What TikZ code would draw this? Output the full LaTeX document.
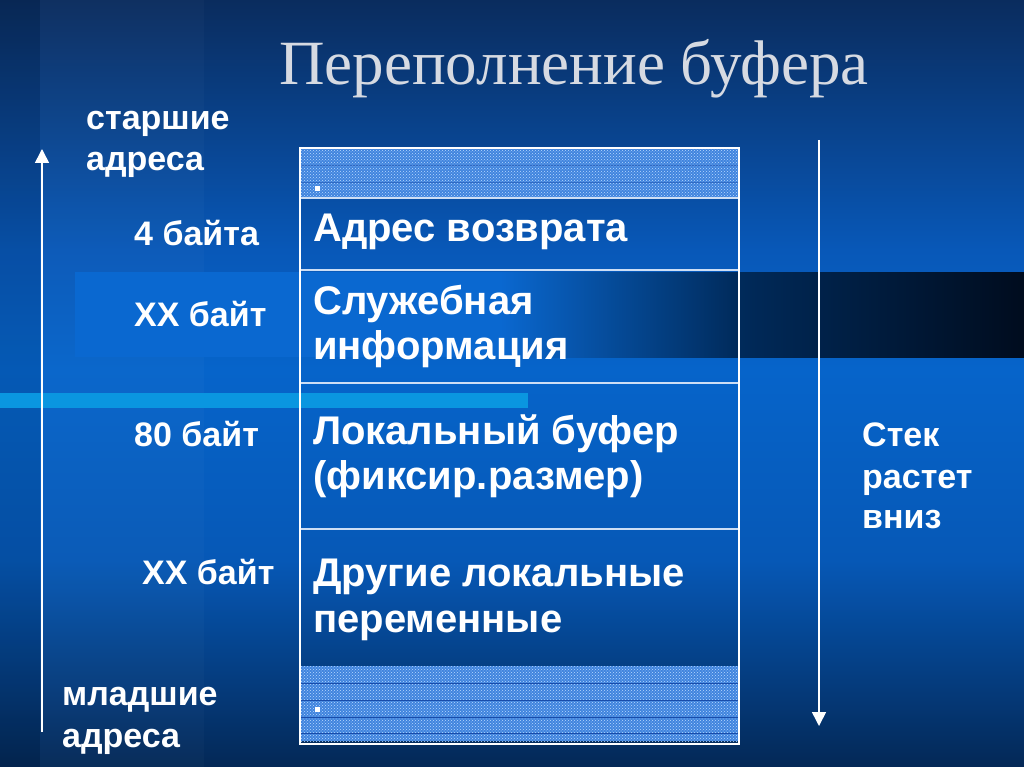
\documentclass[tikz,border=0pt]{standalone}
\usepackage{fontspec}
\setmainfont{Liberation Serif}
\setsansfont{Liberation Sans}
\usetikzlibrary{arrows.meta,patterns}
\definecolor{bgA}{RGB}{10,44,94}
\definecolor{bgB}{RGB}{8,88,184}
\definecolor{bgC}{RGB}{6,100,202}
\definecolor{bgD}{RGB}{6,88,182}
\definecolor{bgE}{RGB}{4,40,86}
\definecolor{bandL}{RGB}{10,104,208}
\definecolor{bandM}{RGB}{0,42,90}
\definecolor{bandR}{RGB}{0,12,30}
\definecolor{cyanbar}{RGB}{10,150,224}
\definecolor{patbase}{RGB}{64,132,222}
\definecolor{patdot}{RGB}{186,218,255}
\definecolor{patline}{RGB}{24,76,170}
\definecolor{titlegray}{RGB}{214,218,226}
\definecolor{rowline}{RGB}{205,222,245}
\begin{document}
\begin{tikzpicture}[x=1pt,y=-1pt,
  lbl/.style={anchor=base west, inner sep=0pt, text=white, font=\sffamily\bfseries\fontsize{34}{40}\selectfont},
  cell/.style={anchor=base west, inner sep=0pt, text=white, font=\sffamily\bfseries\fontsize{40}{46}\selectfont},
  patfill/.style={fill=patbase, postaction={pattern=crosshatch dots, pattern color=patdot}},
  patrule/.style={draw=patline, line width=0.8pt},
  rowrule/.style={draw=rowline, line width=1.5pt},
  frame/.style={draw=white, line width=2.5pt},
  bullet/.style={fill=white},
  axis/.style={draw=white, line width=1.6pt, -{Triangle[width=14pt,length=14pt]}}]
\useasboundingbox (0,0) rectangle (1024,767);
% background
\fill[top color=bgA,bottom color=bgB] (0,0) rectangle (1024,250);
\fill[top color=bgB,bottom color=bgC] (0,250) rectangle (1024,370);
\fill[top color=bgC,bottom color=bgD] (0,370) rectangle (1024,560);
\fill[top color=bgD,bottom color=bgE] (0,560) rectangle (1024,767.5);
\fill[black, opacity=0.10] (0,0) rectangle (40,767.5);
\fill[white, opacity=0.025] (40,0) rectangle (204,767.5);
\fill[bandL] (75,272) rectangle (500,357);
\fill[left color=bandL, right color=bandM] (500,272) rectangle (740,357);
\fill[left color=bandM, right color=bandR] (740,272) rectangle (1024.5,357);
\fill[cyanbar] (0,393) rectangle (528,408);
% title
\node[anchor=base, inner sep=0pt, text=titlegray, font=\fontsize{63}{70}\selectfont] (title) at (574,85) {Переполнение буфера};
% table
\path[patfill] (301,149) rectangle (738,197);
\path[patfill] (301,666) rectangle (738,741);
\foreach \yy in {165,182} \draw[patrule, opacity=0.5] (301,\yy) -- (738,\yy);
\foreach \yy in {683,700,717,733} \draw[patrule] (301,\yy) -- (738,\yy);
\fill[bullet] (314.5,186.5) rectangle (319.5,191.5);
\fill[bullet] (314.5,706.5) rectangle (319.5,711.5);
\foreach \yy in {198,270,383,529} \draw[rowrule] (300,\yy) -- (739,\yy);
\draw[frame] (300,148) rectangle (739,744);
\node[cell] (c1) at (313,241) {Адрес возврата};
\node[cell] (c2a) at (313,314) {Служебная};
\node[cell] (c2b) at (313,359) {информация};
\node[cell] (c3a) at (313,444) {Локальный буфер};
\node[cell] (c3b) at (313,489) {(фиксир.размер)};
\node[cell] (c4a) at (313,586) {Другие локальные};
\node[cell] (c4b) at (313,632) {переменные};
% side labels
\node[lbl] (hi1) at (86,130) {старшие};
\node[lbl] (hi2) at (86,171) {адреса};
\node[lbl] (s1) at (134,245) {4 байта};
\node[lbl] (s2) at (134,326) {XX байт};
\node[lbl] (s3) at (134,446) {80 байт};
\node[lbl] (s4) at (142,584) {XX байт};
\node[lbl] (lo1) at (62,705) {младшие};
\node[lbl] (lo2) at (62,747) {адреса};
\node[lbl] (g1) at (862,446) {Стек};
\node[lbl] (g2) at (862,488) {растет};
\node[lbl] (g3) at (862,528) {вниз};
% arrows
\coordinate (upS) at (42,732);
\coordinate (upE) at (42,149);
\coordinate (dnS) at (819,140);
\coordinate (dnE) at (819,726);
\draw[axis] (upS) -- (upE);
\draw[axis] (dnS) -- (dnE);
\end{tikzpicture}
\end{document}
